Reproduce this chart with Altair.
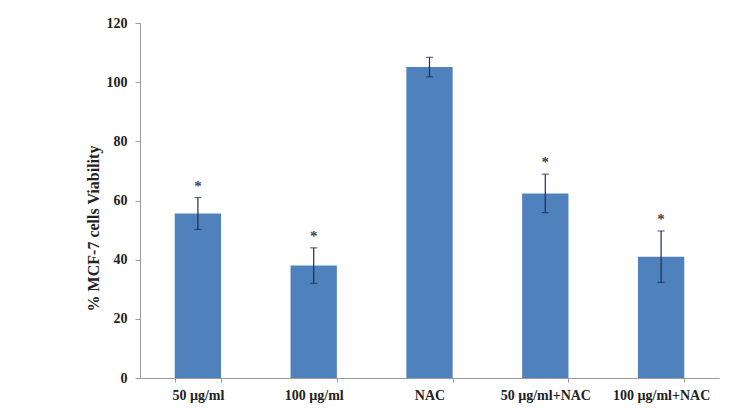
import altair as alt
import pandas as pd

categories = ["50 µg/ml", "100 µg/ml", "NAC", "50 µg/ml+NAC", "100 µg/ml+NAC"]
means = [55.6, 38.0, 105.1, 62.4, 41.0]
errors = [5.4, 6.0, 3.3, 6.5, 8.7]
stars = ["*", "*", "", "*", "*"]

df = pd.DataFrame({"cat": categories, "mean": means, "err": errors, "star": stars})
df["lo"] = df["mean"] - df["err"]
df["hi"] = df["mean"] + df["err"]

FONT = "Times New Roman, Liberation Serif, serif"

x = alt.X("cat:N", sort=categories, title=None,
          scale=alt.Scale(paddingInner=0.6, paddingOuter=0.3),
          axis=alt.Axis(labelAngle=0, labelFont=FONT, labelFontSize=14, labelFontWeight="bold",
                        labelColor="#222", domainColor="#9a9a9a", tickColor="#9a9a9a",
                        tickBand="extent", tickSize=4, labelPadding=6, grid=False))

y_axis = alt.Axis(values=[0, 20, 40, 60, 80, 100, 120], grid=False, labelFont=FONT,
                  labelFontSize=14, labelFontWeight="bold", labelColor="#222",
                  domainColor="#9a9a9a", tickColor="#9a9a9a", tickSize=5, labelPadding=8,
                  title="% MCF-7 cells Viability", titleFont=FONT, titleFontSize=16,
                  titleFontWeight="bold", titleColor="#222", titleX=-47, titleY=205,
                  titleAlign="center", titleBaseline="middle", titleAngle=-90)

base = alt.Chart(df)

bars = base.mark_bar(color="#4F81BD").encode(
    x=x,
    y=alt.Y("mean:Q", scale=alt.Scale(domain=[0, 120], nice=False), axis=y_axis),
)

rules = base.mark_rule(color="#1f2d50", strokeWidth=1.2).encode(
    x=alt.X("cat:N", sort=categories), y="lo:Q", y2="hi:Q")
cap_hi = base.mark_tick(color="#1f2d50", size=7, thickness=1.2, orient="horizontal").encode(
    x=alt.X("cat:N", sort=categories), y="hi:Q")
cap_lo = base.mark_tick(color="#1f2d50", size=7, thickness=1.2, orient="horizontal").encode(
    x=alt.X("cat:N", sort=categories), y="lo:Q")
txt = base.mark_text(font=FONT, fontSize=15, fontWeight="bold", color="#444", dy=-4,
                     baseline="bottom").encode(
    x=alt.X("cat:N", sort=categories), y="hi:Q", text="star:N")

chart = alt.layer(bars, rules, cap_hi, cap_lo, txt).properties(
    width=579, height=355,
    autosize=alt.AutoSizeParams(type="none"),
    padding={"left": 132, "top": 15, "right": 17, "bottom": 27},
    background="white",
).configure_view(strokeWidth=0, stroke="transparent").configure_axis(grid=False)

chart.save("out.html", embed_options={"renderer": "svg", "actions": False})
